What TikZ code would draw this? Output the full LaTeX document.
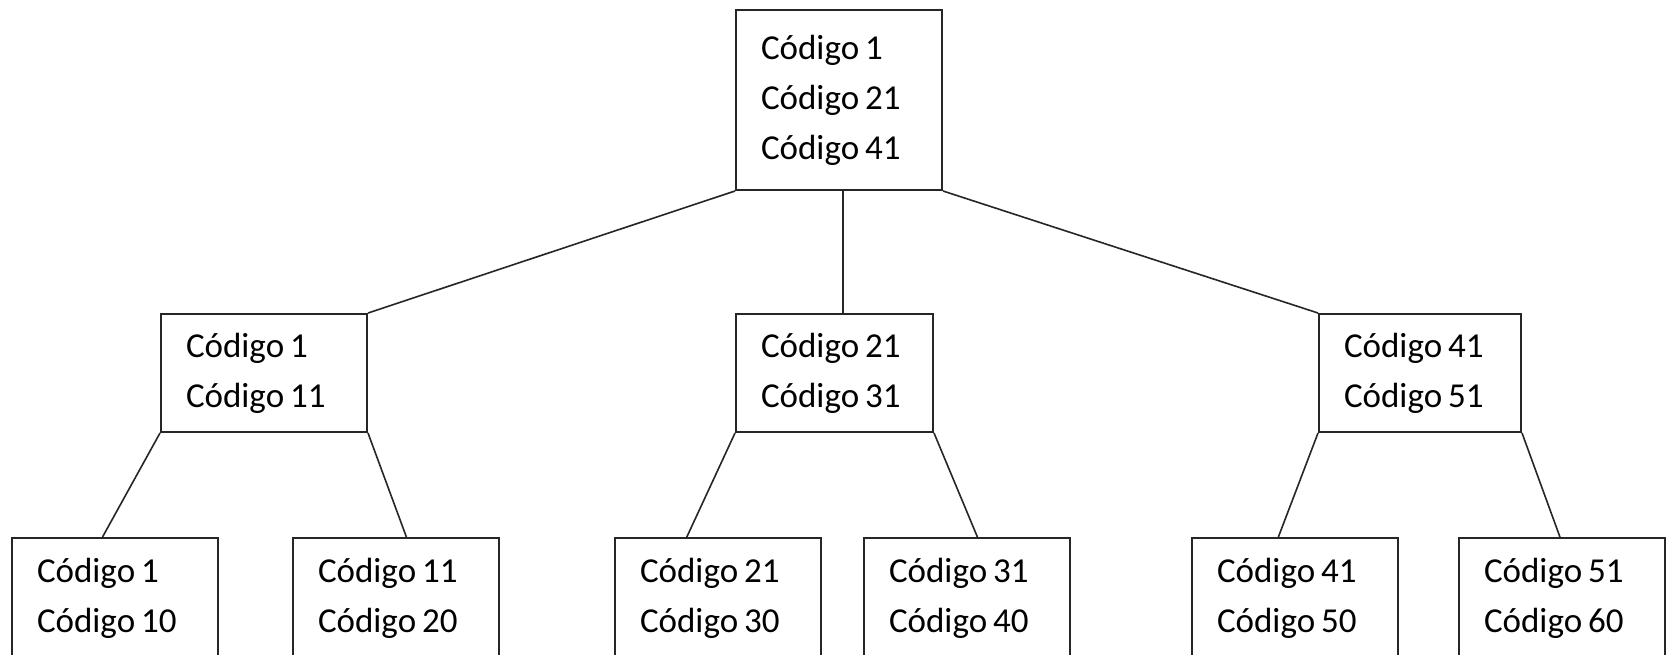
\documentclass[tikz,border=0pt]{standalone}
\usepackage{fontspec}
\setmainfont{Carlito}
\usepackage{tikz}
\usetikzlibrary{calc}

% tighter word space for the box labels
\newcommand{\espacocurto}{\spaceskip 3pt\relax}

\begin{document}
\begin{tikzpicture}[
    x=0.5pt, y=-0.5pt,
    font=\fontsize{17.5}{25}\selectfont,
    caixa/.style={draw=black!85, line width=1pt, anchor=north west,
                  align=left, text width=78pt, inner xsep=12.5pt, inner ysep=0pt,
                  fill=white, execute at begin node=\espacocurto},
    ramo/.style={draw=black!85, line width=0.8pt},
  ]
    \clip (0,0) rectangle (1674,654);
    \fill[white] (0,0) rectangle (1674,654);

    % --- root ---
    \node[caixa, minimum height=90pt] (raiz) at (735,9)
      {Código 1\\Código 21\\Código 41};

    % --- second level ---
    \node[caixa, minimum height=59pt] (esq) at (160,313) {Código 1\\Código 11};
    \node[caixa, minimum height=59pt, text width=73.5pt] (meio) at (735,313) {Código 21\\Código 31};
    \node[caixa, minimum height=59pt, text width=76pt] (dir) at (1318,313) {Código 41\\Código 51};

    % --- leaves ---
    \node[caixa, minimum height=60pt] (f1) at (11,537)   {Código 1\\Código 10};
    \node[caixa, minimum height=60pt] (f2) at (292,537)  {Código 11\\Código 20};
    \node[caixa, minimum height=60pt] (f3) at (614,537)  {Código 21\\Código 30};
    \node[caixa, minimum height=60pt] (f4) at (863,537)  {Código 31\\Código 40};
    \node[caixa, minimum height=60pt] (f5) at (1191,537) {Código 41\\Código 50};
    \node[caixa, minimum height=60pt] (f6) at (1458,537) {Código 51\\Código 60};

    % root -> second level
    \draw[ramo] (raiz.south west) -- (esq.north east);
    \draw[ramo] ($(raiz.south west)!.52!(raiz.south east)$) -- ++(0,124);
    \draw[ramo] (raiz.south east) -- (dir.north west);

    % second level -> leaves
    \draw[ramo] (esq.south west) -- ($(f1.north west)!.44!(f1.north east)$);
    \draw[ramo] (esq.south east) -- ($(f2.north west)!.55!(f2.north east)$);
    \draw[ramo] (meio.south west) -- ($(f3.north west)!.35!(f3.north east)$);
    \draw[ramo] (meio.south east) -- ($(f4.north west)!.55!(f4.north east)$);
    \draw[ramo] (dir.south west) -- ($(f5.north west)!.42!(f5.north east)$);
    \draw[ramo] (dir.south east) -- ($(f6.north west)!.49!(f6.north east)$);
\end{tikzpicture}
\end{document}
